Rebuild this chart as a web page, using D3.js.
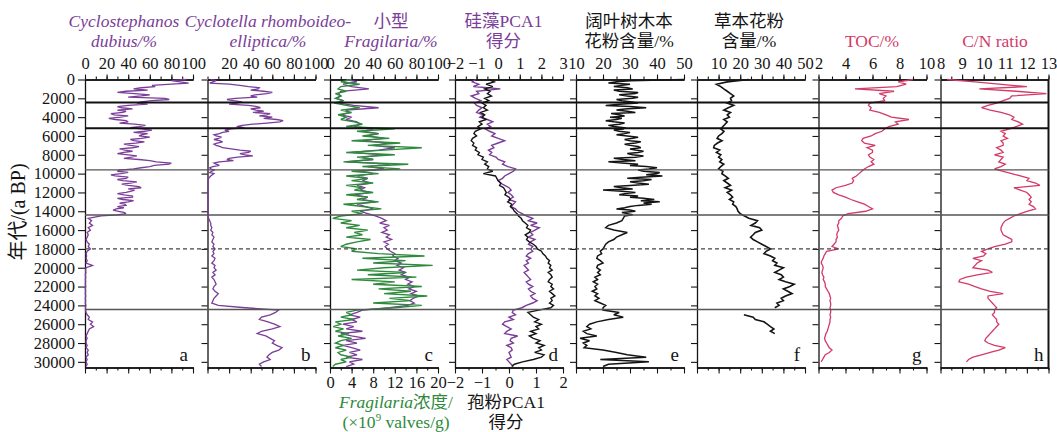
<!DOCTYPE html>
<html>
<head>
<meta charset="utf-8">
<script src="https://cdn.jsdelivr.net/npm/d3@7"></script>
<style>
  body { margin: 0; background: #fff; }
</style>
</head>
<body>
<svg id="chart" width="1057" height="432" font-family="Liberation Serif, Noto Sans CJK SC"></svg>
<script>

// sample ages (a BP), 250-year grid
var ages = [
  0,250,500,750,1000,1250,1500,1750,2000,2250,
  2500,2750,3000,3250,3500,3750,4000,4250,4500,4750,
  5000,5250,5500,5750,6000,6250,6500,6750,7000,7250,
  7500,7750,8000,8250,8500,8750,9000,9250,9500,9750,
  10000,10250,10500,10750,11000,11250,11500,11750,12000,12250,
  12500,12750,13000,13250,13500,13750,14000,14250,14500,14750,
  15000,15250,15500,15750,16000,16250,16500,16750,17000,17250,
  17500,17750,18000,18250,18500,18750,19000,19250,19500,19750,
  20000,20250,20500,20750,21000,21250,21500,21750,22000,22250,
  22500,22750,23000,23250,23500,23750,24000,24250,24500,24750,
  25000,25250,25500,25750,26000,26250,26500,26750,27000,27250,
  27500,27750,28000,28250,28500,28750,29000,29250,29500,29750,
  30000,30250,30500
];

// extra in-between ages for the noisy upper parts
var midAges = [
  125,375,625,875,1125,1375,1625,1875,2125,2375,
  2625,2875,3125,3375,3625,3875,4125,4375,4625,4875,
  5125,5375,5625,5875,6125,6375,6625,6875,7125,7375,
  7625,7875,8125,8375,8625,8875,9125,9375,9625,9875,
  10125,10375,10625,10875,11125,11375,11625,11875,12125,12375,
  12625,12875,13125,13375,13625,13875,14125,14375
];

// a: Cyclostephanos dubius %
var cycloDubius = [
  94,88,80,65,45,38,46,52,74,62,
  48,40,34,30,35,27,33,28,40,46,
  50,52,55,58,50,52,45,47,42,44,
  37,36,40,43,50,66,78,60,45,30,
  33,28,38,35,42,40,52,46,38,36,
  44,35,40,37,30,29,31,38,15,3,
  6,4,7,3,5,2,3,2,1,2,
  4,3,5,2,1,1.5,1,2,1,7,
  1,0.5,0.8,0.3,0.6,0.3,0.5,0.3,0.6,0.3,
  0.5,0.3,0.6,0.3,0.5,0.3,0.8,0.4,0.5,1,
  2,4,3,7,5,8,4,3,2,1,
  2,1,1,2,1,3,2,3,1,2,
  1,2,1
];
var cycloDubiusMid = [
  80,96,62,52,58,30,60,40,78,52,
  58,30,44,38,24,40,22,38,32,56,
  42,62,45,52,60,42,55,36,50,32,
  44,30,48,36,60,80,64,52,32,40,
  24,40,30,48,34,50,40,42,30,44,
  30,45,32,38,36,26,36,30
];

// b: Cyclotella rhomboideo-elliptica %
var cycloRhomb = [
  3,5,20,38,47,52,55,40,26,24,
  27,38,49,45,42,55,60,64,67,42,
  27,22,20,11,8,10,11,9,8,14,
  30,38,35,28,18,11,8,5,3,4,
  6,3,1,0.5,0.5,0.5,0.5,0.5,0.5,0.5,
  0.5,0.5,0.5,0.5,0.5,0.5,0.5,0.5,0.5,1,
  2,3,3,4,3,5,4,6,5,4,
  6,5,7,5,6,4,7,6,4,7,
  6,8,5,7,4,6,7,8,6,5,
  7,10,8,6,5,4,10,35,66,63,
  58,50,48,56,62,67,60,50,46,54,
  58,62,60,64,69,66,60,57,55,58,
  52,48,50
];
var cycloRhombMid = [
  8,2,30,48,40,60,44,46,18,32,
  20,46,40,52,58,48,52,70,55,32,
  34,16,14,6,13,6,14,6,12,22,
  40,30,42,20,24,6,11,2,6,2
];

// c: small Fragilaria %
var fragPct = [
  15,25,12,20,36,10,8,10,6,12,
  8,22,45,15,18,10,20,15,25,28,
  22,40,30,45,35,50,30,55,40,60,
  45,20,50,30,40,15,55,35,50,30,
  40,25,35,30,38,25,32,28,38,22,
  35,30,42,25,33,40,28,35,42,48,
  52,46,55,50,53,48,55,52,57,50,
  54,51,53,56,60,58,63,60,66,62,
  68,64,70,66,74,70,76,72,78,73,
  80,75,82,77,74,78,72,55,30,25,
  18,28,20,25,12,22,15,30,10,20,
  33,15,25,12,20,28,18,25,15,30,
  18,22,15
];

// c: Fragilaria concentration (x10^9 valves/g)
var fragConc = [
  4,2,5.5,2,1.5,3,1,2,1,2.5,
  0.8,3,5.5,2,4,1.5,3,2,4.5,6,
  3,12,5,9,6,11,4,13,7,17,
  10,3,12,5,8,2.5,14.5,6,13,4,
  9,3,7,4,8,3,6,4.5,8,3,
  7,5,9,2.5,6,9.5,4,6,2,0.5,
  4,2,5.5,3,7,4.5,6,3,7.5,5,
  3,2,5,4,9,17.5,6,14,8,19,
  10,5,14,7,16,4,12,8,17,9,
  15,10,18,11,15,8,17,12,5,3,
  4,2,4.5,1,2,0.6,2.5,1,3.5,1.5,
  4,2,1,2.5,1,3,1.5,2,4,2,
  3,1,0.5
];

// d: diatom PCA1 score
var diatomPca = [
  -1.05,-1.2,-0.9,-1.15,0.1,-1.0,-0.9,-1.25,-1.05,-0.8,
  -1.1,-1.0,-0.75,-0.9,-1.0,-0.7,-0.85,-0.5,-0.25,-0.5,
  -0.35,-0.6,-0.4,-0.15,-0.3,0.0,0.3,0.0,-0.3,-0.2,
  -0.45,-0.3,-0.4,-0.1,0.0,0.3,0.2,0.45,0.8,0.7,
  0.5,0.3,0.2,0.0,0.1,0.3,0.5,0.6,0.45,0.6,
  0.7,0.5,0.8,0.7,0.6,0.8,0.9,1.1,1.3,1.6,
  1.4,1.8,1.5,1.9,1.7,1.5,1.6,1.4,1.7,1.5,
  1.4,1.6,1.5,1.6,1.4,1.3,1.5,1.3,1.4,1.2,
  1.3,1.4,1.2,1.3,1.4,1.5,1.3,1.4,1.6,1.4,
  1.5,1.7,1.5,1.6,1.8,1.6,1.3,1.1,0.7,0.65,
  0.8,0.5,0.7,0.3,0.2,0.4,0.6,0.4,0.3,0.9,
  0.6,0.55,0.7,0.4,0.6,0.65,0.5,0.55,0.6,0.4,
  0.5,0.6,0.7
];

// d: pollen PCA1 score
var pollenPca = [
  -0.75,-0.55,-0.85,-0.6,-0.9,-0.7,-0.8,-0.65,-0.9,-0.75,
  -1.0,-0.85,-0.95,-0.8,-1.05,-0.9,-1.0,-0.85,-1.1,-1.0,
  -1.15,-1.05,-1.25,-1.3,-1.2,-1.35,-1.4,-1.3,-1.35,-1.2,
  -1.25,-1.1,-1.15,-0.95,-1.0,-0.8,-0.9,-0.75,-0.8,-0.6,
  -0.95,-0.5,-0.45,-0.4,-0.3,-0.35,-0.2,-0.15,-0.1,-0.15,
  0.0,0.05,-0.05,0.1,0.05,0.15,0.2,0.3,0.35,0.45,
  0.5,0.6,0.7,0.65,0.8,0.75,0.6,0.7,0.65,0.75,
  0.9,1.0,1.05,1.2,1.25,1.35,1.4,1.5,1.45,1.55,
  1.5,1.6,1.45,1.55,1.6,1.5,1.45,1.6,1.55,1.65,
  1.5,1.6,1.7,1.55,1.6,1.5,1.65,1.55,1.1,0.7,
  0.8,0.9,1.1,0.95,1.2,1.0,1.1,0.8,1.0,0.75,
  0.9,1.15,1.0,1.3,1.1,1.2,0.95,1.3,1.2,0.9,
  0.5,0.2,0.1
];

// e: broadleaf tree pollen %
var broadleaf = [
  50,25,30,24,31,26,32,29,31,27,
  33,21,36,25,32,26,22.6,25,24,26,
  24,27.5,26,28,29,31,30,32,30,34,
  32,33,31,32,27.5,22,33,36,37,35,
  40,42,29,35,33,30,27,20,32,26,
  30,39,41,38,30,25,32,29,28,27.5,
  27,25,22,21,24,29,27,25,24,22,
  21,20.5,20,19,19.5,18,17.7,19,20,18,
  17.7,19,18,19,17,18,16.4,18,17,17.7,
  16,18,17,18.5,17,19,21,20,20,26,
  24,27.5,22,17.7,15,14,15.5,12.7,14,17.7,
  11.5,15,12.7,14,13,20,25,29,36,19,
  37,22,20
];
var broadleafMid = [
  30,22,27,29,24,33,26,33,25,30,
  26,30,28,29,23,28,27,21,28,22,
  28,24,30,25,33,28,34,28,33,30,
  35,29,35,24,32,27,30,40,33,41,
  36,34,38,30,37,24,31,27,28,33,
  35,34,35,33,28,30,27,31
];

// f: herb pollen %
var herb = [
  24,14,9,11,12.4,14,15.5,17,15.5,16,
  14,17,14.5,12.4,15.5,14,15,12.4,14,13,
  12,11,12.5,11.5,10,9.3,11.6,9.5,8,7.7,
  10.5,9,11,10,11.5,10.5,12.4,11,10,12,
  11.5,13,14.5,12.4,14,15.5,13,16,14,15.5,
  16.5,15,17,16.5,18,18.6,19,20,22,24,
  28,27,25,29,30,27,26,24.8,26,28,
  30,32,34,32,31,34,36,35,37,36,
  40,38,36,39,40,38,41,45,43,40,
  42,44,41,39,40,37,38,36,null,null,
  21.7,26,27,31,32.5,34,35.6,34,36,null,
  null,null,null,null,null,null,null,null,null,null,
  null,null,null
];

// g: TOC %
var toc = [
  9.0,7.9,8.5,7.8,4.7,7.6,6.5,7.0,6.8,6.9,
  5.8,5.7,5.9,5.8,6.5,7.0,7.4,8.7,7.7,7.9,
  7.2,6.9,6.7,6.2,5.9,5.3,5.2,5.4,6.2,5.6,
  6.0,6.0,5.7,5.8,6.1,5.9,6.1,5.7,5.4,5.2,
  5.0,4.8,4.5,4.6,4.5,4.0,3.3,3.0,3.1,3.5,
  4.0,4.4,4.9,5.4,5.7,6.0,5.5,4.2,3.8,3.7,
  3.5,3.5,3.4,3.45,3.5,3.4,3.35,3.4,3.3,3.3,
  3.15,3.0,3.5,2.6,2.5,2.4,2.35,2.25,2.2,2.3,
  2.35,2.3,2.25,2.3,2.4,2.35,2.45,2.5,2.5,2.6,
  2.7,2.8,2.85,2.9,2.85,2.9,2.9,2.85,2.9,2.9,
  2.85,2.9,2.85,2.85,2.8,2.75,2.7,2.65,2.55,2.5,
  2.45,2.5,2.6,2.7,2.8,3.0,2.8,2.5,2.4,2.3,
  2.2,null,null
];

// h: C/N ratio
var cnRatio = [
  8.3,9.6,10.7,12.0,9.8,11.5,12.9,11.3,11.2,10.9,
  10.6,10.2,9.9,10.3,10.8,11.2,11.4,11.3,11.6,11.8,
  11.5,11.2,10.8,11.0,10.9,11.1,10.8,10.9,10.9,10.6,
  10.8,10.9,10.5,10.9,10.8,10.7,11.0,10.8,10.5,10.9,
  11.3,11.7,12.1,12.0,12.4,12.6,11.4,11.7,12.0,12.1,
  12.2,12.1,12.2,12.1,12.3,12.4,12.0,11.7,11.4,11.2,
  11.0,10.9,10.85,10.8,10.8,10.85,10.9,11.1,11.3,11.3,
  11.0,10.5,10.2,9.9,10.1,10.0,9.5,9.9,9.7,9.6,
  9.5,10.2,10.4,9.7,9.2,8.9,8.85,9.3,9.6,9.9,
  10.3,10.9,10.2,10.2,10.3,10.4,10.5,10.6,10.5,10.5,
  10.4,10.5,10.6,10.6,10.7,10.6,10.5,10.4,10.3,10.2,
  10.1,10.05,10.2,10.5,11.0,10.7,10.3,9.9,9.5,9.3,
  9.2,null,null
];

// zone boundaries (a BP)
var boldBoundaries = [2450, 5170];
var thinBoundaries = [9600, 14400, 24430];
var dashedBoundary = 18000;

// tick labels
var ageTicks = [0,2000,4000,6000,8000,10000,12000,14000,16000,18000,20000,22000,24000,26000,28000,30000];
var ticksPct = [0,20,40,60,80,100];
var ticksPctNoZero = [20,40,60,80,100];
var ticksDiatomPca = [-2,-1,0,1,2,3];
var ticksBroadleaf = [10,20,30,40,50];
var ticksHerb = [10,20,30,40,50];
var ticksToc = [2,4,6,8,10];
var ticksCn = [8,9,10,11,12,13];
var ticksConc = [0,4,8,12,16,20];
var ticksPollenPca = [-2,-1,0,1,2];

var purple = "#7a3d98", green = "#2e8a3c", pink = "#d33a67", ink = "#141414";
var serif = "Liberation Serif, Noto Sans CJK SC";
var fmt = d3.format("d");

var svg = d3.select("#chart");
var chartTop = 79.5, chartBottom = 367.5;
var panelLeft = [85, 207.5, 330, 455, 576, 697, 818.5, 940.5];
var panelW = 108;

var y = d3.scaleLinear().domain([0, 30600]).range([chartTop, chartBottom]);

var panels = [
  { letter: "a", domain: [0, 100], ticks: ticksPct, minor: 10, titleX: 124, color: purple,
    title: [[["Cyclostephanos", 1]], [["dubius/%", 1]]],
    series: [{ values: cycloDubius, mid: cycloDubiusMid, color: purple, w: 1.3 }] },
  { letter: "b", domain: [0, 100], ticks: ticksPctNoZero, minor: 10, titleX: 268, color: purple,
    title: [[["Cyclotella rhomboideo-", 1]], [["elliptica/%", 1]]],
    series: [{ values: cycloRhomb, mid: cycloRhombMid, color: purple, w: 1.3 }] },
  { letter: "c", domain: [0, 100], ticks: ticksPct, minor: 10, titleX: 391, color: purple,
    title: [[["小型", 0]], [["Fragilaria/%", 1]]],
    bottom: { domain: [0, 20], ticks: ticksConc, minor: 2, titleX: 396, color: green,
      title: [[["Fragilaria", 1], ["浓度/", 0]], [["(×10", 0], ["9", 0, "sup"], [" valves/g)", 0, "after"]]] },
    series: [{ values: fragPct, color: purple, w: 1.3 },
             { values: fragConc, color: green, w: 1.4, bottomScale: true }] },
  { letter: "d", domain: [-2, 3], ticks: ticksDiatomPca, minor: 0.5, titleX: 503.5, color: purple,
    title: [[["硅藻PCA1", 0]], [["得分", 0]]],
    bottom: { domain: [-2, 2], ticks: ticksPollenPca, minor: 0.5, titleX: 506, color: ink,
      title: [[["孢粉PCA1", 0]], [["得分", 0]]] },
    series: [{ values: diatomPca, color: purple, w: 1.4 },
             { values: pollenPca, color: ink, w: 1.4, bottomScale: true }] },
  { letter: "e", domain: [10, 50], ticks: ticksBroadleaf, minor: 5, titleX: 629, color: ink,
    title: [[["阔叶树木本", 0]], [["花粉含量/%", 0]]],
    series: [{ values: broadleaf, mid: broadleafMid, color: ink, w: 1.5 }] },
  { letter: "f", domain: [0, 50], ticks: ticksHerb, minor: 5, titleX: 749, color: ink,
    title: [[["草本花粉", 0]], [["含量/%", 0]]],
    series: [{ values: herb, color: ink, w: 1.6 }] },
  { letter: "g", domain: [2, 10], ticks: ticksToc, minor: 1, titleX: 872, color: pink,
    title: [null, [["TOC/%", 0]]],
    series: [{ values: toc, color: pink, w: 1.3 }] },
  { letter: "h", domain: [8, 13], ticks: ticksCn, minor: 0.5, titleX: 995, color: pink,
    title: [null, [["C/N ratio", 0]]],
    series: [{ values: cnRatio, color: pink, w: 1.3 }] }
];

function styleAxis(g) {
  g.attr("font-family", serif).attr("font-size", 16.5);
  g.selectAll(".domain").attr("stroke", ink).attr("stroke-width", 1.3);
  g.selectAll(".tick line").attr("stroke", ink).attr("stroke-width", 1.1);
  g.selectAll(".tick text").attr("fill", ink).attr("font-family", serif);
}

function minorValues(domain, step) {
  var out = [];
  for (var v = domain[0]; v <= domain[1] + 1e-9; v += step) out.push(+v.toFixed(3));
  return out;
}

function drawHAxis(g, scale, ticks, minor, isTop) {
  var make = isTop ? d3.axisTop : d3.axisBottom;
  var yPos = isTop ? chartTop : chartBottom;
  g.append("g").attr("transform", "translate(0," + yPos + ")")
    .call(make(scale).tickValues(minorValues(scale.domain(), minor)).tickSize(3).tickSizeOuter(0).tickFormat(""))
    .call(styleAxis);
  g.append("g").attr("transform", "translate(0," + yPos + ")")
    .call(make(scale).tickValues(ticks).tickFormat(fmt).tickSize(isTop ? 5 : 6).tickSizeOuter(0).tickPadding(isTop ? 6 : 3))
    .call(styleAxis);
}

function writeLines(lines, x, baselines, color, size) {
  lines.forEach(function(line, k) {
    if (!line) return;
    var t = svg.append("text").attr("x", x).attr("y", baselines[k])
      .attr("font-family", serif)
      .attr("text-anchor", "middle").attr("font-size", size).attr("fill", color);
    line.forEach(function(seg) {
      var ts = t.append("tspan").text(seg[0]).attr("font-style", seg[1] ? "italic" : "normal");
      if (seg[2] == "sup") ts.attr("font-size", size * 0.62).attr("dy", -7);
      if (seg[2] == "after") ts.attr("dy", 7);
    });
  });
}

// join main samples and in-between samples, in age order
function seriesPoints(s) {
  var pts = d3.zip(ages, s.values);
  if (s.mid) pts = pts.concat(d3.zip(midAges.slice(0, s.mid.length), s.mid));
  return pts.sort(function(p, q) { return p[0] - q[0]; });
}

panels.forEach(function(p, i) {
  var left = panelLeft[i];
  var g = svg.append("g").attr("transform", "translate(" + left + ",0)");
  var x = d3.scaleLinear().domain(p.domain).range([0, panelW]);
  var xb = p.bottom ? d3.scaleLinear().domain(p.bottom.domain).range([0, panelW]) : null;

  // left axis
  var yAxis = d3.axisLeft(y).tickValues(ageTicks).tickSize(i == 0 ? 7 : 6).tickSizeOuter(0).tickPadding(3);
  yAxis.tickFormat(i == 0 ? fmt : "");
  g.append("g").call(yAxis).call(styleAxis);

  // top and bottom axes
  drawHAxis(g, x, p.ticks, p.minor, true);
  if (p.bottom) {
    drawHAxis(g, xb, p.bottom.ticks, p.bottom.minor, false);
  } else {
    g.append("g").attr("transform", "translate(0," + chartBottom + ")")
      .call(d3.axisBottom(x).tickValues(minorValues(p.domain, p.minor)).tickSize(3).tickSizeOuter(0).tickFormat(""))
      .call(styleAxis);
    g.append("g").attr("transform", "translate(0," + chartBottom + ")")
      .call(d3.axisBottom(x).tickValues(minorValues(p.domain, p.minor * 2)).tickSize(6).tickSizeOuter(0).tickFormat(""))
      .call(styleAxis);
  }

  // series
  p.series.forEach(function(s) {
    var sx = s.bottomScale ? xb : x;
    var line = d3.line()
      .defined(function(d) { return d[1] != null; })
      .x(function(d) { return sx(d[1]); })
      .y(function(d) { return y(d[0]); });
    g.append("path")
      .datum(seriesPoints(s))
      .attr("d", line)
      .attr("fill", "none")
      .attr("stroke", s.color)
      .attr("stroke-width", s.w)
      .attr("stroke-linejoin", "miter")
      .attr("stroke-miterlimit", 3);
  });

  // panel letter
  g.append("text")
    .attr("x", panelW - 5).attr("y", 361)
    .attr("font-family", serif)
    .attr("text-anchor", "end").attr("font-size", 19).attr("fill", ink)
    .text(p.letter);

  // titles
  writeLines(p.title, p.titleX, [27, 47], p.color, 17.5);
  if (p.bottom) writeLines(p.bottom.title, p.bottom.titleX, [408, 428], p.bottom.color, 17.5);
});

// right frame of the last panel
svg.append("line")
  .attr("x1", panelLeft[7] + panelW).attr("x2", panelLeft[7] + panelW)
  .attr("y1", chartTop).attr("y2", chartBottom)
  .attr("stroke", ink).attr("stroke-width", 2);

// zone boundaries
var xStart = panelLeft[0], xEnd = panelLeft[7] + panelW;
boldBoundaries.forEach(function(a) {
  svg.append("line").attr("x1", xStart).attr("x2", xEnd).attr("y1", y(a)).attr("y2", y(a))
    .attr("stroke", "#111").attr("stroke-width", 2);
});
thinBoundaries.forEach(function(a) {
  svg.append("line").attr("x1", xStart).attr("x2", xEnd).attr("y1", y(a)).attr("y2", y(a))
    .attr("stroke", "#555").attr("stroke-width", 1.4);
});
svg.append("line").attr("x1", xStart).attr("x2", xEnd)
  .attr("y1", y(dashedBoundary)).attr("y2", y(dashedBoundary))
  .attr("stroke", "#444").attr("stroke-width", 1.2).attr("stroke-dasharray", "4,3");

// y-axis title
svg.append("text")
  .attr("transform", "translate(25,212) rotate(-90)")
  .attr("font-family", serif)
  .attr("text-anchor", "middle").attr("font-size", 20).attr("fill", ink)
  .text("年代/(a BP)");

</script>
</body>
</html>
